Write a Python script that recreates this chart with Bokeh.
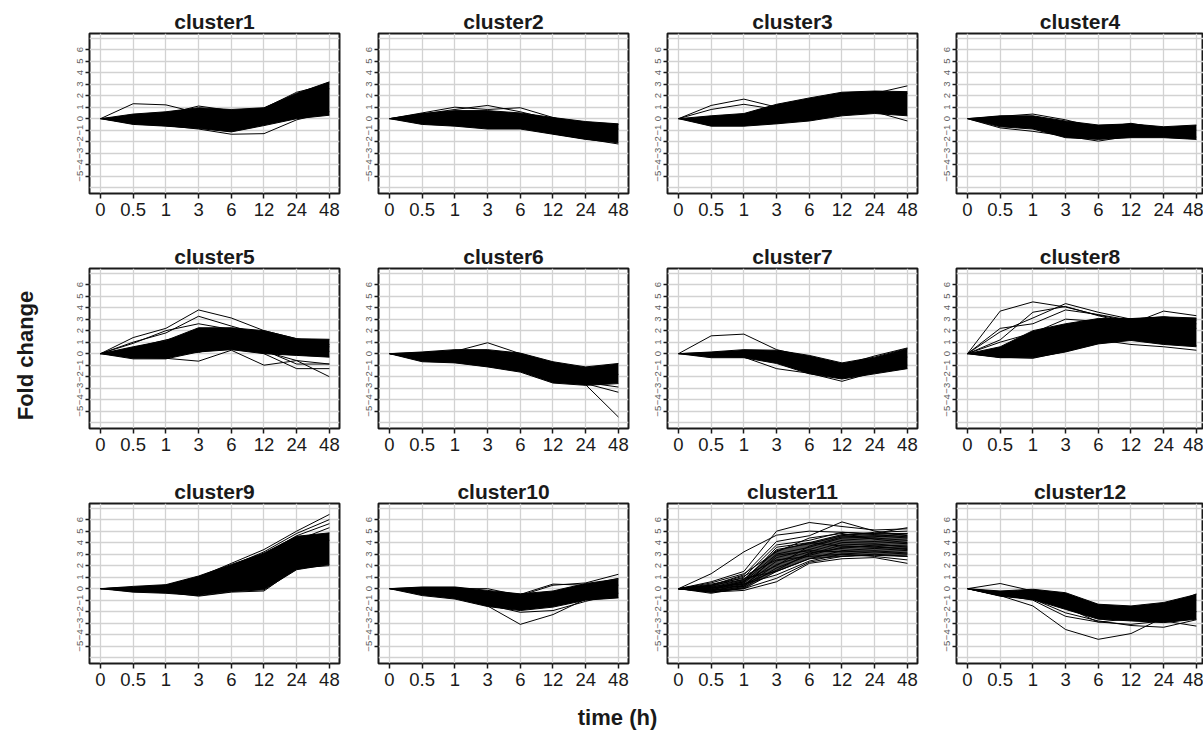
import math
from bokeh.plotting import figure
from bokeh.layouts import gridplot, row, column
from bokeh.models import Range1d, FixedTicker, Label
from bokeh.embed import file_html
from bokeh.resources import INLINE

# ---------------- data ----------------
time_labels = ["0", "0.5", "1", "3", "6", "12", "24", "48"]
y_tick_values = [-5, -4, -3, -2, -1, 0, 1, 2, 3, 4, 5, 6]
y_grid_values = [-6, -5, -4, -3, -2, -1, 0, 1, 2, 3, 4, 5, 6, 7]

upper1 = [0, 0.4, 0.6, 0.95, 0.8, 0.95, 2.2, 3.2]
lower1 = [0, -0.5, -0.65, -0.85, -1.15, -0.6, 0.0, 0.3]
lines1 = [
    [0, 1.3, 1.2, 0.5, 0.6, 0.7, 1.8, 2.6],
    [0, -0.4, -0.6, -0.9, -1.35, -1.3, -0.1, 0.6],
    [0, 0.2, 0.4, 1.1, 0.7, 0.9, 2.3, 3.0],
]

upper2 = [0, 0.45, 0.7, 0.7, 0.5, 0.1, -0.25, -0.45]
lower2 = [0, -0.5, -0.65, -0.9, -0.9, -1.35, -1.8, -2.1]
lines2 = [
    [0, 0.5, 1.0, 0.8, 0.95, 0.1, -0.6, -0.9],
    [0, 0.4, 0.8, 1.15, 0.6, -0.1, -0.5, -0.5],
    [0, -0.3, -0.5, -0.8, -0.6, -1.3, -1.75, -2.2],
]

upper3 = [0, 0.25, 0.45, 1.25, 1.8, 2.3, 2.4, 2.35]
lower3 = [0, -0.65, -0.65, -0.45, -0.2, 0.25, 0.45, 0.25]
lines3 = [
    [0, 1.15, 1.7, 1.0, 1.5, 2.1, 2.2, 2.85],
    [0, 0.8, 1.25, 0.8, 1.3, 2.0, 2.3, 2.2],
    [0, -0.3, -0.5, -0.4, 0.0, 0.5, 0.6, -0.2],
]

upper4 = [0, 0.25, 0.25, -0.2, -0.55, -0.45, -0.7, -0.55]
lower4 = [0, -0.7, -0.9, -1.65, -1.8, -1.65, -1.65, -1.8]
lines4 = [
    [0, 0.2, 0.4, -0.1, -0.8, -0.4, -0.9, -1.0],
    [0, -0.8, -1.1, -1.5, -1.95, -1.5, -1.4, -1.6],
]

upper5 = [0, 0.6, 1.15, 2.25, 2.25, 2.0, 1.3, 1.25]
lower5 = [0, -0.45, -0.45, 0.15, 0.35, 0.0, -0.15, -0.3]
lines5 = [
    [0, 1.4, 2.2, 3.8, 3.1, 2.0, 1.3, 0.8],
    [0, 1.0, 1.8, 3.25, 2.4, 1.6, 1.0, 0.6],
    [0, 0.9, 2.0, 2.6, 2.1, 1.2, 0.5, 0.2],
    [0, -0.3, -0.4, -0.65, 0.3, -1.0, -0.6, -0.9],
    [0, 0.2, 0.5, 1.0, 1.2, 0.0, -1.3, -1.3],
    [0, 0.3, 0.6, 0.1, 0.9, 0.2, -0.6, -2.0],
    [0, 0.5, 1.2, 1.7, 1.9, 0.3, -0.9, -0.9],
]

upper6 = [0, 0.15, 0.35, 0.35, 0.05, -0.7, -1.15, -0.85]
lower6 = [0, -0.7, -0.8, -1.15, -1.6, -2.55, -2.75, -2.6]
lines6 = [
    [0, 0.1, 0.2, 0.95, 0.0, -1.0, -1.6, -1.8],
    [0, -0.3, -0.5, -0.9, -1.4, -2.3, -2.7, -5.5],
    [0, -0.5, -0.7, -1.0, -1.5, -2.4, -2.6, -3.35],
    [0, -0.4, -0.6, -0.8, -1.3, -2.2, -2.5, -2.9],
]

upper7 = [0, 0.15, 0.35, 0.3, -0.15, -0.8, -0.3, 0.45]
lower7 = [0, -0.35, -0.35, -0.85, -1.75, -2.2, -1.75, -1.3]
lines7 = [
    [0, 1.55, 1.7, 0.35, -0.3, -1.0, -0.2, 0.5],
    [0, -0.2, -0.3, -1.3, -1.7, -2.4, -1.6, -1.0],
    [0, 0.1, 0.2, -0.5, -1.2, -2.0, -1.2, -0.3],
]

upper8 = [0, 0.6, 2.0, 2.6, 3.05, 3.05, 3.2, 3.1]
lower8 = [0, -0.35, -0.35, 0.15, 0.85, 1.15, 0.8, 0.6]
lines8 = [
    [0, 3.7, 4.5, 4.05, 3.35, 2.8, 3.0, 2.6],
    [0, 1.9, 3.1, 4.35, 3.6, 3.0, 3.2, 2.9],
    [0, 1.2, 3.6, 4.1, 3.3, 2.6, 3.7, 3.3],
    [0, 2.2, 2.6, 3.8, 3.4, 2.9, 2.5, 2.2],
    [0, 1.0, 1.8, 3.0, 2.8, 2.5, 2.9, 3.0],
    [0, 0.2, 0.1, 0.4, 1.2, 0.8, 0.6, 0.3],
    [0, -0.3, -0.4, 0.2, 1.0, 1.3, 0.9, 0.7],
]

upper9 = [0, 0.2, 0.35, 1.1, 2.1, 3.1, 4.55, 4.85]
lower9 = [0, -0.3, -0.4, -0.6, -0.25, -0.1, 1.65, 2.1]
lines9 = [
    [0, 0.1, 0.3, 1.0, 2.2, 3.4, 5.0, 6.45],
    [0, 0.1, 0.2, 0.9, 2.0, 3.2, 4.8, 6.0],
    [0, 0.0, 0.2, 0.8, 1.9, 3.0, 4.6, 5.65],
    [0, 0.0, 0.1, 0.6, 1.6, 2.6, 4.2, 5.3],
    [0, -0.2, -0.3, -0.65, -0.3, -0.2, 1.8, 2.0],
    [0, 0.1, 0.2, 0.5, 1.4, 2.8, 3.8, 4.2],
]

upper10 = [0, 0.15, 0.15, -0.15, -0.45, -0.2, 0.45, 0.85]
lower10 = [0, -0.6, -0.9, -1.55, -1.9, -1.6, -1.0, -0.8]
lines10 = [
    [0, -0.3, -0.6, -1.5, -3.1, -2.25, -0.9, 0.3],
    [0, -0.4, -0.8, -1.4, -2.05, -1.9, -1.1, -0.4],
    [0, 0.0, 0.0, 0.0, -0.6, 0.3, 0.5, 1.25],
    [0, 0.1, 0.1, -0.3, -0.5, 0.4, 0.3, 0.9],
]

upper11 = [0, 0.3, 0.8, 3.3, 4.0, 4.7, 4.8, 4.8]
lower11 = [0, -0.3, 0.0, 1.5, 2.6, 2.8, 2.9, 2.8]
lines11 = [
    [0, 1.3, 3.2, 4.65, 5.0, 4.9, 4.7, 4.5],
    [0, 0.6, 1.5, 5.0, 5.75, 5.4, 5.1, 5.2],
    [0, 0.3, 1.2, 4.1, 4.6, 5.8, 5.0, 4.6],
    [0, 0.2, 1.0, 3.8, 4.2, 4.9, 4.8, 5.3],
    [0, 0.1, 0.8, 3.4, 3.9, 4.6, 4.9, 5.0],
    [0, 0.0, 0.6, 3.0, 3.6, 4.4, 4.5, 4.8],
    [0, -0.1, 0.5, 2.7, 3.4, 4.2, 4.4, 4.2],
    [0, -0.2, 0.3, 2.4, 3.2, 4.0, 4.1, 3.9],
    [0, -0.3, 0.2, 2.1, 3.0, 3.8, 3.9, 3.6],
    [0, -0.4, 0.1, 1.8, 2.9, 3.6, 3.7, 3.4],
    [0, 0.4, 0.9, 1.5, 2.6, 3.3, 3.5, 3.3],
    [0, 0.2, 0.4, 1.2, 2.4, 3.0, 3.2, 3.0],
    [0, -0.1, 0.0, 0.9, 2.3, 2.8, 3.0, 2.8],
    [0, -0.3, -0.15, 0.6, 2.2, 2.6, 2.7, 2.2],
    [0, 0.5, 1.3, 3.2, 4.4, 4.8, 4.3, 4.0],
    [0, 0.0, 0.7, 2.0, 3.7, 4.5, 4.6, 4.4],
    [0, -0.2, 0.4, 1.6, 3.1, 3.5, 3.8, 3.7],
    [0, 0.1, 0.2, 2.9, 3.3, 3.2, 3.3, 3.1],
    [0, -0.1, 0.6, 3.6, 4.0, 3.7, 3.6, 3.5],
    [0, 0.3, 1.1, 2.5, 2.8, 3.0, 2.8, 2.5],
]

upper12 = [0, -0.2, -0.05, -0.35, -1.35, -1.5, -1.2, -0.5]
lower12 = [0, -0.65, -0.95, -1.8, -2.65, -2.8, -2.95, -2.65]
lines12 = [
    [0, 0.45, -0.2, -0.6, -1.4, -1.9, -1.5, -1.0],
    [0, -0.6, -1.5, -3.55, -4.4, -3.9, -2.5, -2.0],
    [0, -0.5, -1.0, -2.4, -2.9, -3.1, -2.8, -3.25],
    [0, -0.4, -0.9, -2.1, -2.8, -3.2, -3.35, -2.7],
    [0, -0.3, -0.6, -1.0, -1.6, -2.3, -1.6, -0.45],
    [0, -0.6, -0.9, -1.6, -2.9, -2.6, -2.2, -2.0],
]

cluster_names = ["cluster%d" % i for i in range(1, 13)]
uppers = [upper1, upper2, upper3, upper4, upper5, upper6,
          upper7, upper8, upper9, upper10, upper11, upper12]
lowers = [lower1, lower2, lower3, lower4, lower5, lower6,
          lower7, lower8, lower9, lower10, lower11, lower12]
line_sets = [lines1, lines2, lines3, lines4, lines5, lines6,
             lines7, lines8, lines9, lines10, lines11, lines12]
band_alphas = [1, 1, 1, 1, 1, 1, 1, 1, 1, 1, 0.7, 1]

# ---------------- styling ----------------
FONT = "Liberation Sans"
TEXT = "#1a1a1a"
x_pos = list(range(len(time_labels)))
UNIT_PX = 32.7
X_START = -0.336
LEFT_B = 30
FRAME_H = 160
TOPS = [33, 30, 30]
BOTTOMS = [45, 45, 38]


def make_panel(idx, col, rw):
    right_b = 0 if col == 3 else 9
    width = 277 if col == 3 else 289
    top_b = TOPS[rw]
    bottom_b = BOTTOMS[rw]
    height = FRAME_H + top_b + bottom_b
    frame_w = width - LEFT_B - right_b
    p = figure(width=width, height=height, output_backend="svg", toolbar_location=None,
               x_range=Range1d(X_START, X_START + frame_w / UNIT_PX),
               y_range=Range1d(-6.5, 7.4),
               min_border_left=LEFT_B, min_border_right=right_b,
               min_border_top=top_b, min_border_bottom=bottom_b)
    p.title.text = cluster_names[idx]
    p.title.text_font = FONT
    p.title.text_font_size = "21px"
    p.title.text_font_style = "bold"
    p.title.text_color = TEXT
    p.title.align = "center"
    p.title.standoff = 2
    p.title.offset = 0

    p.background_fill_color = "white"
    p.border_fill_color = "white"
    p.outline_line_color = "#1a1a1a"
    p.outline_line_width = 2

    p.xgrid.ticker = FixedTicker(ticks=x_pos)
    p.ygrid.ticker = FixedTicker(ticks=y_grid_values)
    p.grid.grid_line_color = "#d2d2d2"
    p.grid.grid_line_width = 1.3

    xa = p.xaxis[0]
    xa.ticker = FixedTicker(ticks=x_pos)
    xa.major_label_overrides = {i: t for i, t in enumerate(time_labels)}
    xa.major_label_text_font = FONT
    xa.major_label_text_font_size = "18.5px"
    xa.major_label_text_color = TEXT
    xa.major_label_standoff = 4
    xa.major_tick_out = 5
    xa.major_tick_in = 0
    xa.major_tick_line_color = "#1a1a1a"
    xa.major_tick_line_width = 1.5
    xa.minor_tick_line_color = None
    xa.axis_line_color = None

    ya = p.yaxis[0]
    ya.ticker = FixedTicker(ticks=y_tick_values)
    ya.major_label_orientation = "vertical"
    ya.major_label_text_font = FONT
    ya.major_label_text_font_size = "9.5px"
    ya.major_label_text_color = "#606060"
    ya.major_label_standoff = 2
    ya.major_tick_out = 4
    ya.major_tick_in = 0
    ya.major_tick_line_color = "#1a1a1a"
    ya.major_tick_line_width = 1.5
    ya.minor_tick_line_color = None
    ya.axis_line_color = None

    up = uppers[idx]
    lo = lowers[idx]
    p.varea(x=x_pos, y1=lo, y2=up, fill_color="black", fill_alpha=band_alphas[idx])
    p.line(x=x_pos, y=up, line_color="black", line_width=1)
    p.line(x=x_pos, y=lo, line_color="black", line_width=1)
    ls = line_sets[idx]
    p.multi_line(xs=[x_pos] * len(ls), ys=ls, line_color="black", line_width=1)
    return p


panels = []
for rw in range(3):
    r = []
    for col in range(4):
        r.append(make_panel(rw * 4 + col, col, rw))
    panels.append(r)

grid = gridplot(panels, toolbar_location=None)

grid_h = sum(FRAME_H + t + b for t, b in zip(TOPS, BOTTOMS))
YW = 59

yfig = figure(width=YW, height=grid_h, output_backend="svg", toolbar_location=None,
              x_range=Range1d(0, YW), y_range=Range1d(0, grid_h), min_border=0)
yfig.axis.visible = False
yfig.grid.visible = False
yfig.outline_line_color = None
yfig.add_layout(Label(x=25, y=grid_h - 355, text="Fold change", angle=math.pi / 2,
                      text_align="center", text_baseline="middle", text_font=FONT,
                      text_font_size="22px", text_font_style="bold", text_color=TEXT))

XH = 746 - grid_h
xfig = figure(width=1203, height=XH, output_backend="svg", toolbar_location=None,
              x_range=Range1d(0, 1203), y_range=Range1d(0, XH), min_border=0)
xfig.axis.visible = False
xfig.grid.visible = False
xfig.outline_line_color = None
xfig.add_layout(Label(x=617, y=XH - 16, text="time (h)", text_align="center",
                      text_baseline="middle", text_font=FONT, text_font_size="22px",
                      text_font_style="bold", text_color=TEXT))

layout = column(row(yfig, grid), xfig)

open("out.html", "w").write(file_html(layout, INLINE))
